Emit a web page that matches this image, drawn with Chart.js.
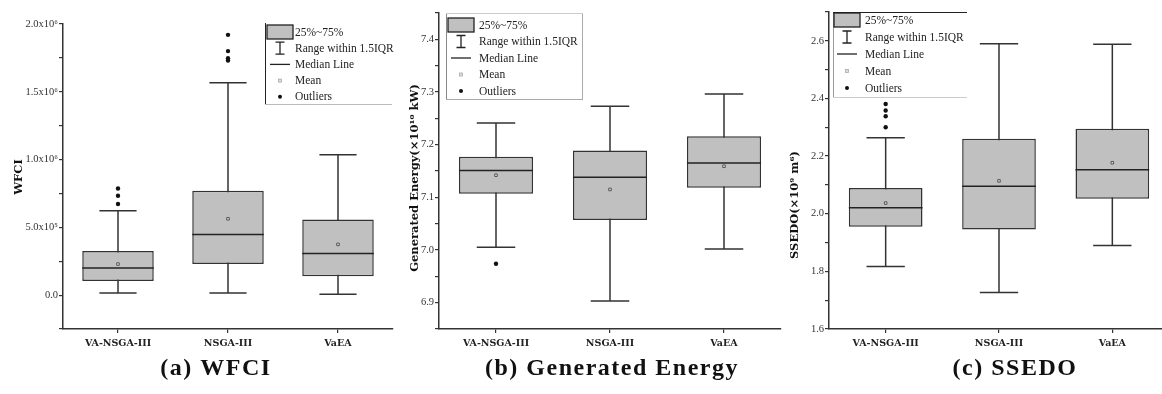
<!DOCTYPE html>
<html>
<head>
<meta charset="utf-8">
<script src="https://cdn.jsdelivr.net/npm/chart.js@4.4.1/dist/chart.umd.min.js"></script>
<style>
  html, body { margin: 0; padding: 0; background: #fff; overflow: hidden; }
  #wrap { position: relative; width: 1162px; height: 394px; overflow: hidden; }
  canvas { position: absolute; top: 0; }
</style>
</head>
<body>
<div id="wrap">
  <canvas id="wfci" width="400" height="394" style="left:0px"></canvas>
  <canvas id="energy" width="400" height="394" style="left:390px"></canvas>
  <canvas id="ssedo" width="400" height="394" style="left:775px"></canvas>
</div>
<script>
// categories shared by the three panels
const categories = ['VA-NSGA-III', 'NSGA-III', 'VaEA'];
const legendLabels = ['25%~75%', 'Range within 1.5IQR', 'Median Line', 'Mean', 'Outliers'];

// (a) WFCI
const wfciLow = [15000, 15000, 7000];
const wfciQ1 = [105000, 230000, 140000];
const wfciMedian = [200000, 447000, 307000];
const wfciQ3 = [325000, 770000, 558000];
const wfciHigh = [623000, 1567000, 1035000];
const wfciMean = [229000, 563000, 374000];
const wfciOutliers = [[672000, 733000, 787000], [1730000, 1747000, 1800000, 1920000], []];
const wfciTicks = [0, 500000, 1000000, 1500000, 2000000];
const wfciTickLabels = ['0.0', '5.0x10⁵', '1.0x10⁶', '1.5x10⁶', '2.0x10⁶'];

// (b) Generated Energy
const energyLow = [7.005, 6.903, 7.002];
const energyQ1 = [7.107, 7.057, 7.118];
const energyMedian = [7.151, 7.138, 7.165];
const energyQ3 = [7.177, 7.189, 7.216];
const energyHigh = [7.241, 7.273, 7.296];
const energyMean = [7.142, 7.115, 7.159];
const energyOutliers = [[6.974], [], []];
const energyTicks = [6.9, 7.0, 7.1, 7.2, 7.3, 7.4];
const energyTickLabels = ['6.9', '7.0', '7.1', '7.2', '7.3', '7.4'];

// (c) SSEDO
const ssedoLow = [1.817, 1.727, 1.890];
const ssedoQ1 = [1.955, 1.945, 2.052];
const ssedoMedian = [2.021, 2.095, 2.153];
const ssedoQ3 = [2.089, 2.260, 2.295];
const ssedoHigh = [2.264, 2.590, 2.588];
const ssedoMean = [2.037, 2.114, 2.177];
const ssedoOutliers = [[2.300, 2.338, 2.358, 2.381], [], []];
const ssedoTicks = [1.6, 1.8, 2.0, 2.2, 2.4, 2.6];
const ssedoTickLabels = ['1.6', '1.8', '2.0', '2.2', '2.4', '2.6'];

/**
 * whiskers + median line, drawn around the floating bar (box)
 */
const whiskerPlugin = {
    id: 'whiskers',
    beforeDatasetDraw(chart, args) {
        const w = chart.data.datasets[args.index].whisker;
        if (!w) return;
        const ctx = chart.ctx, y = chart.scales.y;
        ctx.save();
        ctx.strokeStyle = '#333';
        ctx.lineWidth = 1.5;
        args.meta.data.forEach((bar, i) => {
            const x = bar.x, half = bar.width * 0.26;
            const yl = y.getPixelForValue(w.low[i]), yh = y.getPixelForValue(w.high[i]);
            ctx.beginPath();
            ctx.moveTo(x, yl); ctx.lineTo(x, yh);
            ctx.moveTo(x - half, yl); ctx.lineTo(x + half, yl);
            ctx.moveTo(x - half, yh); ctx.lineTo(x + half, yh);
            ctx.stroke();
        });
        ctx.restore();
    },
    afterDatasetDraw(chart, args) {
        const w = chart.data.datasets[args.index].whisker;
        if (!w) return;
        const ctx = chart.ctx, y = chart.scales.y;
        ctx.save();
        ctx.strokeStyle = '#222';
        ctx.lineWidth = 1.5;
        args.meta.data.forEach((bar, i) => {
            const ym = y.getPixelForValue(w.median[i]);
            ctx.beginPath();
            ctx.moveTo(bar.x - bar.width / 2, ym);
            ctx.lineTo(bar.x + bar.width / 2, ym);
            ctx.stroke();
        });
        ctx.restore();
    }
};

// legend box, y title and caption
const decorPlugin = {
    id: 'decor',
    afterDraw(chart, args, o) {
        const ctx = chart.ctx;
        ctx.save();
        // legend
        const lg = o.legend;
        const [x1, y1, x2, y2] = lg.box;
        ctx.lineWidth = 1;
        const side = (c, ax, ay, bx, by) => {
            if (!c) return;
            ctx.strokeStyle = c;
            ctx.beginPath(); ctx.moveTo(ax, ay); ctx.lineTo(bx, by); ctx.stroke();
        };
        side(lg.sides.left, x1 + 0.5, y1, x1 + 0.5, y2);
        side(lg.sides.right, x2 - 0.5, y1, x2 - 0.5, y2);
        side(lg.sides.top, x1, y1 + 0.5, x2, y1 + 0.5);
        side(lg.sides.bottom, x1, y2 - 0.5, x2, y2 - 0.5);
        ctx.font = '11.5px "Liberation Serif"';
        ctx.textBaseline = 'middle';
        ctx.textAlign = 'left';
        legendLabels.forEach((t, i) => {
            const yy = lg.row0 + i * lg.dy, ic = lg.ic;
            ctx.strokeStyle = '#222';
            ctx.lineWidth = 1.3;
            if (i === 0) {
                ctx.fillStyle = '#c0c0c0';
                ctx.fillRect(ic - 13, yy - 7, 26, 14);
                ctx.strokeRect(ic - 13, yy - 7, 26, 14);
            } else if (i === 1) {
                ctx.beginPath();
                ctx.moveTo(ic, yy - 6); ctx.lineTo(ic, yy + 6);
                ctx.moveTo(ic - 4.5, yy - 6); ctx.lineTo(ic + 4.5, yy - 6);
                ctx.moveTo(ic - 4.5, yy + 6); ctx.lineTo(ic + 4.5, yy + 6);
                ctx.stroke();
            } else if (i === 2) {
                ctx.beginPath(); ctx.moveTo(ic - 10, yy); ctx.lineTo(ic + 10, yy); ctx.stroke();
            } else if (i === 3) {
                ctx.fillStyle = '#ddd';
                ctx.fillRect(ic - 1.5, yy - 1.5, 3, 3);
                ctx.strokeStyle = '#aaa'; ctx.lineWidth = 0.8;
                ctx.strokeRect(ic - 1.5, yy - 1.5, 3, 3);
            } else {
                ctx.fillStyle = '#111';
                ctx.beginPath(); ctx.arc(ic, yy, 2, 0, Math.PI * 2); ctx.fill();
            }
            ctx.fillStyle = '#222';
            ctx.fillText(t, lg.tx, yy + 0.5);
        });
        // y title
        ctx.save();
        ctx.translate(o.yTitle.x, o.yTitle.y);
        ctx.rotate(-Math.PI / 2);
        ctx.font = 'bold 11.5px "DejaVu Serif"';
        ctx.fillStyle = '#111';
        ctx.textAlign = 'center';
        ctx.textBaseline = 'middle';
        ctx.fillText(o.yTitle.text, 0, 0);
        ctx.restore();
        // caption
        ctx.font = 'bold 24px "Liberation Serif"';
        ctx.letterSpacing = '1.5px';
        ctx.fillStyle = '#111';
        ctx.textAlign = 'center';
        ctx.textBaseline = 'alphabetic';
        ctx.fillText(o.caption.text, o.caption.x, o.caption.y);
        ctx.restore();
    }
};

function outlierPoints(list) {
    const pts = [];
    list.forEach((vals, i) => vals.forEach(v => pts.push({ x: categories[i], y: v })));
    return pts;
}

function boxChart(id, p) {
    return new Chart(document.getElementById(id), {
        data: {
            labels: categories,
            datasets: [
                {
                    type: 'line', label: 'Outliers', data: outlierPoints(p.outliers),
                    showLine: false, pointStyle: 'circle', pointRadius: 2.2,
                    pointBackgroundColor: '#111', pointBorderWidth: 0
                },
                {
                    type: 'line', label: 'Mean', data: p.mean,
                    showLine: false, pointStyle: 'rect', pointRadius: 1.8,
                    pointBackgroundColor: '#ddd', pointBorderColor: '#555', pointBorderWidth: 1
                },
                {
                    type: 'bar', label: '25%~75%',
                    data: p.q1.map((v, i) => [v, p.q3[i]]),
                    backgroundColor: '#c0c0c0', borderColor: '#333', borderWidth: 1.5,
                    borderSkipped: false, barPercentage: 0.65, categoryPercentage: 1,
                    whisker: { low: p.low, high: p.high, median: p.median }
                }
            ]
        },
        options: {
            responsive: false,
            animation: false,
            layout: { padding: { left: 0, right: p.padRight, top: p.padTop, bottom: 35 } },
            plugins: {
                legend: { display: false },
                tooltip: { enabled: false },
                decor: { legend: p.legend, yTitle: p.yTitle, caption: p.caption }
            },
            scales: {
                x: {
                    type: 'category',
                    offset: true,
                    grid: { drawOnChartArea: false, offset: false, tickLength: 4, color: '#333', lineWidth: 1.2 },
                    border: { color: '#333', width: 1.5 },
                    ticks: { font: { family: 'DejaVu Serif', weight: 'bold', size: 9.5 }, color: '#222', padding: 5, maxRotation: 0 },
                    afterFit: s => { s.height = 30; }
                },
                y: {
                    min: p.min, max: p.max,
                    grid: { drawOnChartArea: false, tickLength: 4, color: '#333', lineWidth: 1.2 },
                    border: { color: '#333', width: 1.5 },
                    ticks: {
                        stepSize: p.step, autoSkip: false, padding: 1, color: '#333',
                        font: { family: 'Liberation Serif', size: 10.5 },
                        callback: v => {
                            const k = p.ticks.findIndex(t => Math.abs(t - v) < p.step / 100);
                            return k >= 0 ? p.tickLabels[k] : '';
                        }
                    },
                    afterFit: s => { s.width = p.axisLeft; }
                }
            }
        },
        plugins: [whiskerPlugin, decorPlugin]
    });
}

boxChart('wfci', {
    low: wfciLow, q1: wfciQ1, median: wfciMedian, q3: wfciQ3, high: wfciHigh,
    mean: wfciMean, outliers: wfciOutliers, ticks: wfciTicks, tickLabels: wfciTickLabels,
    min: -250000, max: 2000000, step: 250000,
    axisLeft: 63, padTop: 24, padRight: 7,
    legend: { box: [265, 23, 392, 105], sides: { left: '#222', bottom: '#bbb' }, row0: 32, dy: 16.2, ic: 280, tx: 295 },
    yTitle: { text: 'WFCI', x: 19, y: 177 },
    caption: { text: '(a) WFCI', x: 216, y: 375 }
});

boxChart('energy', {
    low: energyLow, q1: energyQ1, median: energyMedian, q3: energyQ3, high: energyHigh,
    mean: energyMean, outliers: energyOutliers, ticks: energyTicks, tickLabels: energyTickLabels,
    min: 6.85, max: 7.45, step: 0.05,
    axisLeft: 49, padTop: 13, padRight: 9,
    legend: { box: [56, 13, 193, 100], sides: { left: '#888', right: '#aaa', top: '#ccc', bottom: '#aaa' }, row0: 25, dy: 16.5, ic: 71, tx: 89 },
    yTitle: { text: 'Generated Energy(×10¹⁰ kW)', x: 25, y: 178 },
    caption: { text: '(b) Generated Energy', x: 222, y: 375 }
});

boxChart('ssedo', {
    low: ssedoLow, q1: ssedoQ1, median: ssedoMedian, q3: ssedoQ3, high: ssedoHigh,
    mean: ssedoMean, outliers: ssedoOutliers, ticks: ssedoTicks, tickLabels: ssedoTickLabels,
    min: 1.6, max: 2.7, step: 0.1,
    axisLeft: 54, padTop: 12, padRight: 6,
    legend: { box: [58, 12, 192, 98], sides: { left: '#999', top: '#222', bottom: '#ccc' }, row0: 20, dy: 17, ic: 72, tx: 90 },
    yTitle: { text: 'SSEDO(×10⁹ m⁶)', x: 20, y: 205 },
    caption: { text: '(c) SSEDO', x: 240, y: 375 }
});
</script>
</body>
</html>
